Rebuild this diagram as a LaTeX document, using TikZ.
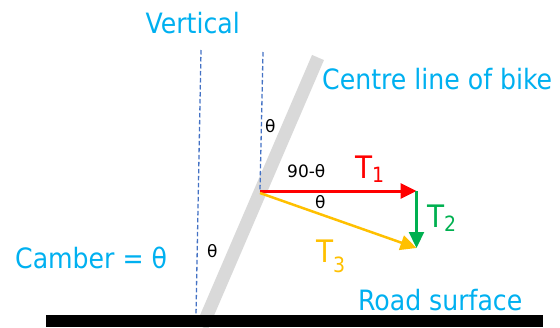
\documentclass[tikz,border=0pt]{standalone}
\usepackage{fontspec}
\usetikzlibrary{arrows.meta}
\newfontfamily\condf{DejaVu Sans Condensed}
\newfontfamily\regf{DejaVu Sans}
\definecolor{cyantxt}{HTML}{00B0F0}
\definecolor{redT}{HTML}{FF0000}
\definecolor{greenT}{HTML}{00B050}
\definecolor{yellowT}{HTML}{FFC000}
\definecolor{dashblue}{HTML}{4472C4}
\definecolor{bikegray}{HTML}{D9D9D9}
\begin{document}
\begin{tikzpicture}[x=1pt,y=-1pt,
  bigtxt/.style={anchor=base west,inner sep=0pt,text=cyantxt,font=\condf\fontsize{28}{30}\selectfont},
  smalltxt/.style={anchor=base west,inner sep=0pt,text=black,font=\regf\fontsize{17}{18}\selectfont},
  tlabel/.style={anchor=base west,inner sep=0pt,font=\condf\fontsize{31}{33}\selectfont},
  guide/.style={dashblue,line width=1.3pt,dash pattern=on 4.5pt off 2.5pt},
  force/.style={-{Triangle[length=16pt,width=15pt]}}]
\useasboundingbox (0,0) rectangle (560,327);
% bike centre line
\coordinate (bikeTop) at (318,57.5);
\coordinate (bikeBot) at (202,327);
\draw[bikegray,line width=13pt] (bikeTop) -- (bikeBot);
% road
\fill[black] (46,315) rectangle (543,327);
% vertical guides
\coordinate (v1t) at (201,50);
\coordinate (v1b) at (196,315);
\coordinate (v2t) at (263,52);
\coordinate (v2b) at (260,190);
\draw[guide] (v1t) -- (v1b);
\draw[guide] (v2t) -- (v2b);
% force points
\coordinate (O) at (260,191);
\coordinate (O2) at (260,193);
\coordinate (A) at (416.5,191);
\coordinate (A2) at (416.5,191);
\coordinate (B) at (416.5,248);
\draw[force,redT,line width=3pt] (O) -- (A);
\draw[force,greenT,line width=2.2pt] (A2) -- (B);
\draw[force,yellowT,line width=2.5pt] (O2) -- (B);
% texts
\node[bigtxt,anchor=base east] (vert) at (240,33) {Vertical};
\node[bigtxt] (centre) at (322,89) {Centre line of bike};
\node[bigtxt] (camber) at (15,268) {Camber = θ};
\node[bigtxt] (road) at (358,310) {Road surface};
\node[smalltxt] (ninety) at (287,177) {90-θ};
\node[smalltxt] (th1) at (315,208) {θ};
\node[smalltxt] (th2) at (265,132) {θ};
\node[smalltxt] (th3) at (207,257) {θ};
\node[tlabel,text=redT] (T1) at (355,178) {T\raisebox{-4pt}{\fontsize{21}{22}\selectfont 1}};
\node[tlabel,text=greenT] (T2) at (427,227) {T\raisebox{-4pt}{\fontsize{21}{22}\selectfont 2}};
\node[tlabel,text=yellowT] (T3) at (316,262) {T\raisebox{-10pt}{\fontsize{21}{22}\selectfont 3}};
\end{tikzpicture}
\end{document}
